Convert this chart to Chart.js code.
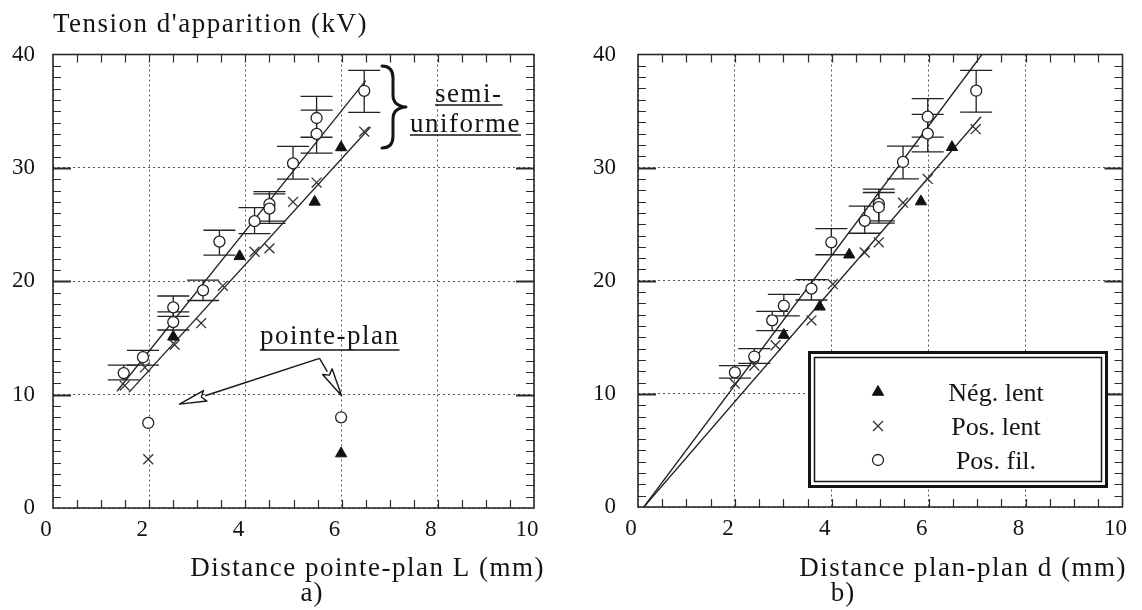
<!DOCTYPE html>
<html><head><meta charset="utf-8">
<script src="https://cdn.jsdelivr.net/npm/chart.js@4.4.1/dist/chart.umd.min.js"></script>
<style>
html,body{margin:0;padding:0;background:#fff;}
#wrap{position:relative;width:1142px;height:610px;overflow:hidden;background:#fff;}
canvas{position:absolute;top:0;}
#ca{left:0px;} #cb{left:571px;}
</style></head><body>
<div id="wrap"><canvas id="ca" width="571" height="610"></canvas><canvas id="cb" width="571" height="610"></canvas></div>
<script>
// ---------- axis ticks ----------
const xTickValues = [0, 2, 4, 6, 8, 10];
const yTickValues = [0, 10, 20, 30, 40];
const legendLabels = ['Nég. lent', 'Pos. lent', 'Pos. fil.'];

// ---------- panel a : pointe-plan distance L ----------
const aNegX = [2.5, 3.88, 5.44, 5.99];
const aNegY = [15.1, 22.2, 27.0, 31.8];
const aPosX = [1.49, 1.91, 2.53, 3.08, 3.53, 4.19, 4.5, 4.99, 5.48, 6.47];
const aPosY = [10.8, 12.4, 14.4, 16.3, 19.6, 22.6, 22.9, 27.0, 28.7, 33.2];
const aFilX  = [1.47, 1.87, 2.5, 2.5, 3.12, 3.46, 4.19, 4.5, 4.5, 4.99, 5.48, 5.48, 6.47];
const aFilY  = [11.9, 13.3, 17.7, 16.4, 19.2, 23.5, 25.3, 26.8, 26.4, 30.4, 34.4, 33.0, 36.8];
const aFilHi = [12.6, 13.9, 18.7, 17.3, 20.1, 24.5, 26.5, 27.9, 27.7, 31.9, 36.3, 35.1, 38.6];
const aFilLo = [11.3, 12.6, 16.9, 15.7, 18.3, 22.3, 24.2, 25.3, 25.1, 29.0, 32.7, 31.3, 34.9];
// pointe-plan (non uniform) points
const aPpNegX = [5.99], aPpNegY = [4.8];
const aPpPosX = [1.98], aPpPosY = [4.3];
const aPpFilX = [1.98, 5.99], aPpFilY = [7.5, 8.0];
// fitted lines (end points)
const aFitFilX = [1.33, 6.5],  aFitFilY = [10.3, 37.7];
const aFitLentX = [1.58, 6.6], aFitLentY = [10.2, 33.6];

// ---------- panel b : plan-plan distance d ----------
const bNegX = [3.01, 3.75, 4.36, 5.84, 6.48];
const bNegY = [15.2, 17.7, 22.3, 27.0, 31.8];
const bPosX = [2.0, 2.4, 2.84, 3.58, 4.02, 4.68, 4.97, 5.47, 5.98, 6.97];
const bPosY = [10.9, 12.5, 14.3, 16.5, 19.7, 22.5, 23.4, 26.9, 29.0, 33.4];
const bFilX  = [2.0, 2.4, 2.77, 3.01, 3.58, 3.99, 4.68, 4.97, 4.97, 5.47, 5.98, 5.98, 6.98];
const bFilY  = [11.9, 13.3, 16.5, 17.8, 19.3, 23.4, 25.3, 26.8, 26.5, 30.5, 34.5, 33.0, 36.8];
const bFilHi = [12.5, 14.0, 17.3, 18.8, 20.1, 24.6, 26.6, 28.1, 27.8, 31.9, 36.1, 34.7, 38.6];
const bFilLo = [11.4, 12.7, 15.6, 16.9, 18.3, 22.3, 24.2, 25.3, 25.1, 29.0, 32.7, 31.4, 34.9];
const bFitFilX = [0.12, 7.1],  bFitFilY = [0, 40];
const bFitLentX = [0.12, 7.08], bFitLentY = [0, 34.5];

// ---------- helpers ----------
const SERIF = '"Liberation Serif", "DejaVu Serif", "Times New Roman", serif';
const INK = '#141414';
const pts = (xs, ys) => xs.map((x, i) => ({x: x, y: ys[i]}));

const styleNeg = {pointStyle: 'triangle', pointRadius: 6.5, backgroundColor: '#111', borderColor: '#111', borderWidth: 1};
const stylePos = {pointStyle: 'crossRot', pointRadius: 7, backgroundColor: '#333', borderColor: '#333', borderWidth: 1.3};
const styleFil = {pointStyle: 'circle', pointRadius: 5.5, backgroundColor: '#fff', borderColor: '#222', borderWidth: 1.3};
const styleFit = {showLine: true, pointRadius: 0, borderColor: '#222', borderWidth: 1.3, fill: false, order: 5};

function markerSet(data, style, extra) {
  return Object.assign({type: 'scatter', data: data, order: 1, showLine: false}, style, extra || {});
}
function fitSet(xs, ys) {
  return Object.assign({type: 'scatter', data: pts(xs, ys)}, styleFit);
}

const errorBars = {
  id: 'errorBars',
  beforeDatasetsDraw(chart) {
    const ctx = chart.ctx, ys = chart.scales.y;
    chart.data.datasets.forEach((ds, i) => {
      if (!ds.errHi) return;
      const meta = chart.getDatasetMeta(i);
      meta.data.forEach((p, j) => {
        const yh = ys.getPixelForValue(ds.errHi[j]);
        const yl = ys.getPixelForValue(ds.errLo[j]);
        ctx.save();
        ctx.strokeStyle = '#222'; ctx.lineWidth = 1.3;
        ctx.beginPath();
        ctx.moveTo(p.x, yh); ctx.lineTo(p.x, yl);
        ctx.moveTo(p.x - 16, yh); ctx.lineTo(p.x + 16, yh);
        ctx.moveTo(p.x - 16, yl); ctx.lineTo(p.x + 16, yl);
        ctx.stroke();
        ctx.restore();
      });
    });
  }
};

function drawFrameAndTicks(chart) {
  const ctx = chart.ctx, a = chart.chartArea, xs = chart.scales.x, ys = chart.scales.y;
  ctx.save();
  ctx.strokeStyle = '#2a2a2a';
  ctx.lineWidth = 1.2;
  ctx.beginPath();
  for (let v = 0.5; v < 10; v += 0.5) {
    const px = Math.round(xs.getPixelForValue(v)) + 0.5;
    ctx.moveTo(px, a.bottom); ctx.lineTo(px, a.bottom - 8);
    ctx.moveTo(px, a.top); ctx.lineTo(px, a.top + 8);
  }
  for (let v = 1; v < 40; v += 1) {
    if (v % 10 === 0) continue;
    const py = Math.round(ys.getPixelForValue(v)) + 0.5;
    ctx.moveTo(a.left, py); ctx.lineTo(a.left + 8, py);
    ctx.moveTo(a.right, py); ctx.lineTo(a.right - 8, py);
  }
  ctx.stroke();
  ctx.lineWidth = 2;
  ctx.beginPath();
  for (let v = 10; v < 40; v += 10) {
    const py = Math.round(ys.getPixelForValue(v)) + 0.5;
    ctx.moveTo(a.left, py); ctx.lineTo(a.left + 18, py);
    ctx.moveTo(a.right, py); ctx.lineTo(a.right - 18, py);
  }
  ctx.stroke();
  ctx.lineWidth = 1.6;
  ctx.strokeRect(a.left, a.top, a.right - a.left, a.bottom - a.top);
  ctx.restore();
}

function spacedText(ctx, txt, x, y, align, size, spacing, underline) {
  ctx.save();
  ctx.font = size + 'px ' + SERIF;
  ctx.fillStyle = INK;
  ctx.textBaseline = 'alphabetic';
  if ('letterSpacing' in ctx) ctx.letterSpacing = spacing + 'px';
  ctx.textAlign = align;
  ctx.fillText(txt, x, y);
  if (underline) {
    const w = ctx.measureText(txt).width;
    let x0 = align === 'left' ? x : (align === 'right' ? x - w : x - w / 2);
    ctx.strokeStyle = INK; ctx.lineWidth = 1.6;
    ctx.beginPath(); ctx.moveTo(x0, y + underline); ctx.lineTo(x0 + w, y + underline); ctx.stroke();
  }
  ctx.restore();
}

function arrow(ctx, x0, y0, x1, y1, headLen, halfW) {
  const dx = x1 - x0, dy = y1 - y0, L = Math.hypot(dx, dy), ux = dx / L, uy = dy / L;
  const bx = x1 - ux * headLen, by = y1 - uy * headLen;
  ctx.beginPath(); ctx.moveTo(x0, y0); ctx.lineTo(bx, by); ctx.stroke();
  ctx.beginPath();
  ctx.moveTo(x1, y1);
  ctx.lineTo(bx - uy * halfW, by + ux * halfW);
  ctx.lineTo(bx + ux * 4, by + uy * 4);
  ctx.lineTo(bx + uy * halfW, by - ux * halfW);
  ctx.closePath();
  ctx.fillStyle = '#fff'; ctx.fill(); ctx.stroke();
}

const decorA = {
  id: 'decorA',
  afterDraw(chart) {
    const ctx = chart.ctx, xs = chart.scales.x, ys = chart.scales.y;
    drawFrameAndTicks(chart);
    spacedText(ctx, "Tension d'apparition (kV)", 53, 32, 'left', 27, 1.5);
    spacedText(ctx, 'Distance pointe-plan L (mm)', 545, 576, 'right', 27, 1.5);
    spacedText(ctx, 'a)', 312, 601, 'center', 27, 1);
    spacedText(ctx, 'semi-', 435, 102, 'left', 27, 1.5, 3);
    spacedText(ctx, 'uniforme', 410, 132, 'left', 27, 1.5, 3);
    spacedText(ctx, 'pointe-plan', 260, 344, 'left', 27, 1.5, 6);
    // brace
    ctx.save();
    ctx.strokeStyle = INK; ctx.lineWidth = 3; ctx.lineJoin = 'round'; ctx.lineCap = 'round';
    ctx.beginPath();
    ctx.moveTo(382, 66);
    ctx.quadraticCurveTo(393, 66, 393, 78);
    ctx.lineTo(393, 95);
    ctx.quadraticCurveTo(393, 106, 406, 107);
    ctx.quadraticCurveTo(393, 108, 393, 119);
    ctx.lineTo(393, 136);
    ctx.quadraticCurveTo(393, 148, 382, 148);
    ctx.stroke();
    // arrows (anchored in data space)
    ctx.lineWidth = 1.4; ctx.lineCap = 'butt';
    const ox = xs.getPixelForValue(5.54), oy = ys.getPixelForValue(13.2);
    arrow(ctx, ox, oy, xs.getPixelForValue(2.63), ys.getPixelForValue(9.16), 27, 5.5);
    arrow(ctx, ox, oy, xs.getPixelForValue(6.0), ys.getPixelForValue(9.9), 28, 5.5);
    ctx.restore();
  }
};

const decorB = {
  id: 'decorB',
  afterDraw(chart) {
    const ctx = chart.ctx;
    drawFrameAndTicks(chart);
    spacedText(ctx, 'Distance plan-plan d (mm)', 556, 576, 'right', 27, 1.5);
    spacedText(ctx, 'b)', 272, 601, 'center', 27, 1);
    // legend box (double border)
    ctx.save();
    ctx.fillStyle = '#fff';
    ctx.fillRect(237, 351, 300, 137);
    ctx.strokeStyle = INK;
    ctx.lineWidth = 3;
    ctx.strokeRect(238.5, 352.5, 297, 134);
    ctx.lineWidth = 1.5;
    ctx.strokeRect(243.5, 357.5, 287, 124);
    const rows = [392, 426, 460];
    const styles = [styleNeg, stylePos, styleFil];
    rows.forEach((ry, i) => {
      const s = styles[i];
      ctx.fillStyle = s.backgroundColor; ctx.strokeStyle = s.borderColor; ctx.lineWidth = s.borderWidth;
      ctx.beginPath();
      Chart.helpers.drawPoint(ctx, {pointStyle: s.pointStyle, radius: s.pointRadius, borderWidth: s.borderWidth, rotation: 0}, 307, ry);
      spacedText(ctx, legendLabels[i], 425, ry + 9, 'center', 26, 0);
    });
    ctx.restore();
  }
};

function makeChart(canvasId, datasets, leftW, padRight, bottom, yPad, plugin) {
  return new Chart(document.getElementById(canvasId), {
    type: 'scatter',
    data: {datasets: datasets},
    options: {
      responsive: false, animation: false, events: [],
      layout: {autoPadding: false, padding: {left: 0, right: padRight, top: 54.5, bottom: 0}},
      plugins: {legend: {display: false}, tooltip: {enabled: false}, title: {display: false}},
      scales: {
        x: {
          type: 'linear', min: 0, max: 10,
          afterFit: s => { s.height = 610 - bottom; },
          afterBuildTicks: s => { s.ticks = xTickValues.map(v => ({value: v})); },
          ticks: {stepSize: 2, padding: 8, labelOffset: -7, color: INK, font: {family: SERIF, size: 23}},
          grid: {color: '#555', lineWidth: 1, drawTicks: false},
          border: {display: false, dash: [2, 3]}
        },
        y: {
          type: 'linear', min: 0, max: 40,
          afterFit: s => { s.width = leftW; },
          afterBuildTicks: s => { s.ticks = yTickValues.map(v => ({value: v})); },
          ticks: {stepSize: 10, padding: yPad, color: INK, font: {family: SERIF, size: 23}},
          grid: {color: '#555', lineWidth: 1, drawTicks: false},
          border: {display: false, dash: [2, 3]}
        }
      }
    },
    plugins: [errorBars, plugin]
  });
}

const dsA = [
  fitSet(aFitFilX, aFitFilY),
  fitSet(aFitLentX, aFitLentY),
  markerSet(pts(aNegX, aNegY), styleNeg),
  markerSet(pts(aPpNegX, aPpNegY), styleNeg),
  markerSet(pts(aPosX, aPosY), stylePos),
  markerSet(pts(aPpPosX, aPpPosY), stylePos),
  markerSet(pts(aFilX, aFilY), styleFil, {errHi: aFilHi, errLo: aFilLo}),
  markerSet(pts(aPpFilX, aPpFilY), styleFil)
];
const dsB = [
  fitSet(bFitFilX, bFitFilY),
  fitSet(bFitLentX, bFitLentY),
  markerSet(pts(bNegX, bNegY), styleNeg),
  markerSet(pts(bPosX, bPosY), stylePos),
  markerSet(pts(bFilX, bFilY), styleFil, {errHi: bFilHi, errLo: bFilLo})
];

makeChart('ca', dsA, 53, 37, 508, 18, decorA);
makeChart('cb', dsB, 67, 10, 507, 22, decorB);
</script>
</body></html>
